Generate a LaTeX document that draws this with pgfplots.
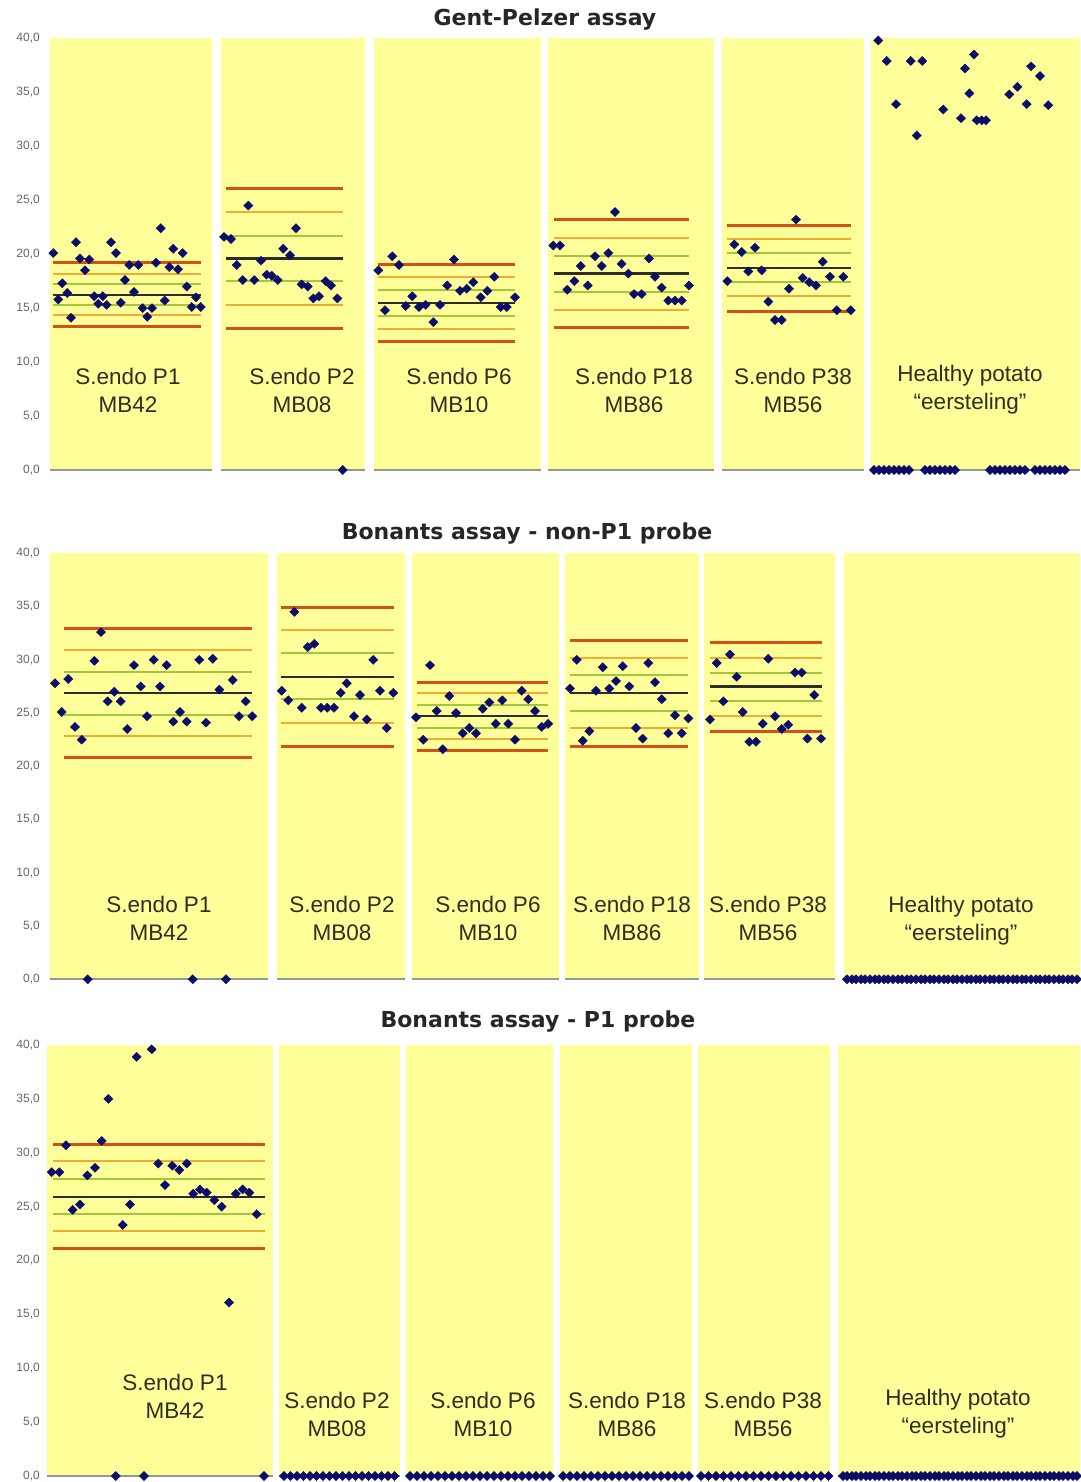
\documentclass[border=0pt]{standalone}
\usepackage{fontspec}
\setmainfont{Liberation Sans}
\newfontfamily\titlefont{DejaVu Sans}
\usepackage{pgfplots}
\usepackage{pgfplotstable}
\pgfplotsset{compat=1.18}

\definecolor{bgyellow}{RGB}{255,255,153}
\definecolor{navy}{RGB}{12,12,105}
\definecolor{lred}{RGB}{208,82,22}
\definecolor{lorange}{RGB}{242,172,52}
\definecolor{lgreen}{RGB}{160,200,60}
\definecolor{lblack}{RGB}{45,45,40}
\definecolor{basegrey}{RGB}{150,150,150}
\definecolor{labtext}{RGB}{45,45,35}

% ---------------- data: x = sample position, y = Ct value ----------------
\pgfplotstableread{
x y
53.3 20.1
58.3 15.8
62.3 17.3
67.3 16.4
71.0 14.1
76.0 21.1
80.0 19.6
85.0 18.5
89.3 19.5
94.3 16.1
98.3 15.4
102.7 16.1
106.7 15.3
111.0 21.1
116.0 20.1
120.7 15.5
125.0 17.6
129.3 19.0
134.0 16.5
138.3 19.0
142.7 15.0
147.3 14.2
152.0 15.0
156.0 19.2
160.7 22.4
164.7 15.7
169.3 18.8
173.3 20.5
178.0 18.6
182.7 20.1
186.7 17.0
191.7 15.1
196.0 16.0
200.7 15.1
224.0 21.6
231.0 21.4
236.7 19.0
242.7 17.6
248.3 24.5
254.3 17.6
261.0 19.4
266.7 18.1
271.7 18.0
277.7 17.6
283.3 20.5
290.0 19.9
296.0 22.4
301.7 17.2
307.7 17.0
313.3 15.9
319.0 16.1
325.7 17.5
331.0 17.1
337.3 15.9
342.7 0
378.3 18.5
385.0 14.8
392.3 19.8
399.0 19.0
405.7 15.2
412.3 16.1
419.0 15.1
425.7 15.3
433.3 13.7
440.0 15.3
447.3 17.1
454.0 19.5
460.0 16.6
466.7 16.8
473.3 17.4
480.7 16.0
487.3 16.6
494.3 17.9
500.7 15.1
506.7 15.1
515.0 16.0
553.3 20.8
560.0 20.8
567.3 16.7
574.3 17.5
580.7 18.9
587.7 17.1
595.0 19.8
601.7 18.9
608.3 20.1
615.0 23.9
621.7 19.1
628.3 18.2
634.0 16.3
641.7 16.3
649.0 19.6
655.0 17.9
661.7 16.9
668.3 15.7
675.0 15.7
681.7 15.7
689.0 17.1
727.3 17.5
734.3 20.9
741.7 20.2
748.3 18.4
755.0 20.6
761.7 18.5
768.3 15.6
775.0 13.9
781.7 13.9
789.0 16.8
796.0 23.2
802.7 17.8
809.3 17.4
816.0 17.1
822.7 19.3
830.0 17.9
836.7 14.8
843.3 17.9
850.7 14.8
878.3 39.8
886.7 37.9
896.0 33.9
910.7 37.9
916.7 31.0
922.3 37.9
943.3 33.4
961.0 32.6
965.0 37.2
969.3 34.9
974.0 38.5
976.7 32.4
981.7 32.4
986.0 32.4
1009.3 34.8
1017.3 35.5
1026.7 33.9
1031.0 37.4
1040.0 36.5
1048.3 33.8
874 0
879 0
884 0
889 0
894 0
899 0
904 0
909 0
925 0
930 0
935 0
940 0
945 0
950 0
955 0
990 0
995 0
1000 0
1005 0
1010 0
1015 0
1020 0
1025 0
1035 0
1040 0
1045 0
1050 0
1055 0
1060 0
1065 0
}\gpdata

\pgfplotstableread{
x y
55.0 27.8
61.7 25.1
68.3 28.2
75.0 23.7
81.7 22.5
87.7 0
94.3 29.9
101.0 32.6
107.7 26.1
114.3 27.0
120.7 26.1
127.3 23.5
134.0 29.5
140.7 27.5
147.0 24.7
153.7 30.0
160.0 27.5
166.7 29.5
173.3 24.2
180.0 25.1
186.7 24.2
192.7 0
199.3 30.0
206.0 24.1
212.7 30.1
219.3 27.2
226.0 0
232.7 28.1
239.0 24.7
245.7 26.1
252.3 24.7
281.7 27.1
288.3 26.2
294.3 34.5
301.7 25.5
307.7 31.2
314.3 31.5
321.0 25.5
327.3 25.5
334.0 25.5
340.7 26.9
346.7 27.8
354.0 24.7
360.0 26.7
366.7 24.4
373.3 30.0
380.0 27.1
386.7 23.6
393.3 26.9
416.0 24.6
423.3 22.5
430.0 29.5
436.7 25.2
442.7 21.6
449.3 26.6
456.0 25.0
462.7 23.1
469.3 23.6
476.0 23.1
482.7 25.4
489.3 26.0
495.7 24.0
502.3 26.2
508.3 24.0
515.0 22.5
521.7 27.1
528.3 26.3
535.0 25.2
541.7 23.7
548.3 24.0
570.0 27.3
576.7 30.0
582.7 22.4
589.3 23.3
596.0 27.1
602.7 29.3
609.3 27.3
616.0 28.0
622.7 29.4
629.3 27.5
636.0 23.6
642.7 22.6
648.3 29.7
655.0 27.9
661.7 26.3
668.3 23.1
675.0 24.8
681.7 23.1
688.3 24.5
710.0 24.4
716.7 29.7
723.3 26.1
730.0 30.5
736.7 28.4
742.7 25.1
749.3 22.3
756.0 22.3
762.7 24.0
768.3 30.1
775.0 24.7
781.7 23.5
788.3 23.9
795.0 28.8
801.7 28.8
807.3 22.6
814.3 26.7
821.0 22.6
847 0
852 0
856 0
861 0
865 0
870 0
875 0
879 0
884 0
888 0
893 0
898 0
902 0
907 0
911 0
916 0
921 0
925 0
930 0
934 0
939 0
944 0
948 0
953 0
957 0
962 0
967 0
971 0
976 0
980 0
985 0
990 0
994 0
999 0
1003 0
1008 0
1013 0
1017 0
1022 0
1026 0
1031 0
1036 0
1040 0
1045 0
1049 0
1054 0
1059 0
1063 0
1068 0
1072 0
1077 0
}\bndata

\pgfplotstableread{
x y
51.7 28.2
59.3 28.2
66.0 30.7
72.7 24.7
80.0 25.2
87.3 27.9
95.0 28.6
101.7 31.1
108.3 35.0
115.7 0
122.7 23.3
130.0 25.2
136.7 38.9
144.0 0
151.7 39.6
158.3 29.0
165.0 27.0
172.3 28.8
179.3 28.4
186.7 29.0
193.3 26.2
200.0 26.6
206.7 26.3
214.3 25.6
221.7 25.0
229.0 16.1
235.7 26.2
242.7 26.6
249.3 26.3
256.7 24.3
264.0 0
284 0
290.5 0
297 0
303.5 0
310 0
316.5 0
323 0
329.5 0
336 0
342.5 0
349 0
355.5 0
362 0
368.5 0
375 0
381.5 0
388 0
394.5 0
410 0
417 0
424 0
431 0
438 0
445 0
452 0
459 0
466 0
473 0
480 0
487 0
494 0
501 0
508 0
515 0
522 0
529 0
536 0
543 0
550 0
563 0
570 0
577 0
584 0
591 0
598 0
605 0
612 0
619 0
626 0
633 0
640 0
647 0
654 0
661 0
668 0
675 0
682 0
689 0
701 0
708.5 0
716 0
723.5 0
731 0
738.5 0
746 0
753.5 0
761 0
768.5 0
776 0
783.5 0
791 0
798.5 0
806 0
813.5 0
821 0
828.5 0
843 0
847 0
852 0
856 0
861 0
866 0
870 0
875 0
879 0
884 0
889 0
893 0
898 0
902 0
907 0
912 0
916 0
921 0
925 0
930 0
935 0
939 0
944 0
948 0
953 0
958 0
962 0
967 0
971 0
976 0
981 0
985 0
990 0
994 0
999 0
1004 0
1008 0
1013 0
1017 0
1022 0
1027 0
1031 0
1036 0
1040 0
1045 0
1050 0
1054 0
1059 0
1063 0
1068 0
1073 0
1077 0
}\pidata

% yellow column with grey baseline
\newcommand{\colbox}[2]{%
  \addplot[fill=bgyellow, draw=none] coordinates {(#1,0)(#2,0)(#2,40)(#1,40)} -- cycle;
  \addplot[basegrey, line width=2pt] coordinates {(#1,0)(#2,0)};
}
% mean and SD lines: x1 x2 +3 +2 +1 mean -1 -2 -3
\newcommand{\sdlines}[9]{%
  \addplot[lred, line width=3pt] coordinates {(#1,#3)(#2,#3)};
  \addplot[lorange, line width=2pt] coordinates {(#1,#4)(#2,#4)};
  \addplot[lgreen, line width=2pt] coordinates {(#1,#5)(#2,#5)};
  \addplot[lblack, line width=2.2pt] coordinates {(#1,#6)(#2,#6)};
  \addplot[lgreen, line width=2pt] coordinates {(#1,#7)(#2,#7)};
  \addplot[lorange, line width=2pt] coordinates {(#1,#8)(#2,#8)};
  \addplot[lred, line width=3pt] coordinates {(#1,#9)(#2,#9)};
}
\newcommand{\clab}[3]{\node[font=\fontsize{22.5}{28}\selectfont, align=center, text=labtext] at (axis cs:#1,#2) {#3};}

\pgfplotsset{panel/.style={
  scale only axis, width=1032pt, anchor=south west,
  xmin=48, xmax=1080, ymin=0, ymax=40,
  clip=false,
  axis line style={draw=none},
  xtick=\empty,
  ytick={0,5,...,40},
  major tick length=0pt,
  tick style={draw=none},
  yticklabel style={font=\fontsize{12}{12}\selectfont, text=black!60, inner sep=0pt, xshift=-8pt,
    /pgf/number format/.cd, fixed, fixed zerofill, precision=1, use comma, assume math mode=true},
}}
\newcommand{\plotpts}[1]{\addplot[only marks, mark=diamond*, mark size=4.6pt, mark options={draw=navy, fill=navy, line width=0.3pt, xscale=1.35}] table[x=x, y=y] {#1};}

\begin{document}
\begin{tikzpicture}
\useasboundingbox (0,0) rectangle (1080pt,-1482pt);

% ---------------- Panel 1 ----------------
\begin{axis}[panel, height=431.7pt, at={(48pt,-470pt)}]
\colbox{50}{212}\colbox{221}{365}\colbox{374}{541}\colbox{548}{714}\colbox{722}{864}\colbox{871}{1080}
\sdlines{53}{201}{19.2}{18.2}{17.2}{16.2}{15.3}{14.4}{13.3}
\sdlines{226}{343}{26.1}{23.9}{21.7}{19.6}{17.5}{15.3}{13.1}
\sdlines{378}{515}{19.0}{17.85}{16.7}{15.5}{14.3}{13.1}{11.9}
\sdlines{554}{689}{23.2}{21.5}{19.8}{18.2}{16.5}{14.8}{13.2}
\sdlines{727}{851}{22.7}{21.4}{20.1}{18.7}{17.4}{16.1}{14.7}
\plotpts{\gpdata}
\clab{128}{7.41}{S.endo P1\\MB42}
\clab{302}{7.41}{S.endo P2\\MB08}
\clab{459}{7.41}{S.endo P6\\MB10}
\clab{634}{7.41}{S.endo P18\\MB86}
\clab{793}{7.41}{S.endo P38\\MB56}
\clab{970}{7.41}{Healthy potato\\“eersteling”}
\node[font=\titlefont\bfseries\fontsize{22}{24}\selectfont, text=black!85] at (axis cs:545,41.7) {Gent-Pelzer assay};
\end{axis}

% ---------------- Panel 2 ----------------
\begin{axis}[panel, height=426pt, at={(48pt,-979.3pt)}]
\colbox{50}{268}\colbox{277}{405}\colbox{412}{559}\colbox{565}{699}\colbox{704}{835}\colbox{844}{1080}
\sdlines{64}{252}{32.9}{30.9}{28.9}{26.85}{24.8}{22.8}{20.8}
\sdlines{281}{394}{34.9}{32.8}{30.6}{28.4}{26.3}{24.1}{21.9}
\sdlines{417}{548}{27.9}{26.9}{25.8}{24.7}{23.6}{22.6}{21.5}
\sdlines{570}{688}{31.8}{30.2}{28.6}{26.9}{25.2}{23.6}{21.9}
\sdlines{710}{822}{31.6}{30.2}{28.8}{27.5}{26.1}{24.7}{23.3}
\plotpts{\bndata}
\clab{159}{5.71}{S.endo P1\\MB42}
\clab{342}{5.71}{S.endo P2\\MB08}
\clab{488}{5.71}{S.endo P6\\MB10}
\clab{632}{5.71}{S.endo P18\\MB86}
\clab{768}{5.71}{S.endo P38\\MB56}
\clab{961}{5.52}{Healthy potato\\“eersteling”}
\node[font=\titlefont\bfseries\fontsize{22}{24}\selectfont, text=black!85] at (axis cs:527,41.9) {Bonants assay - non-P1 probe};
\end{axis}

% ---------------- Panel 3 ----------------
\begin{axis}[panel, height=431pt, at={(48pt,-1476pt)}]
\colbox{47}{273}\colbox{279}{400}\colbox{406}{553}\colbox{560}{692}\colbox{698}{830}\colbox{838}{1080}
\sdlines{53}{265}{30.8}{29.2}{27.6}{25.9}{24.3}{22.7}{21.1}
\plotpts{\pidata}
\clab{175}{7.38}{S.endo P1\\MB42}
\clab{337}{5.75}{S.endo P2\\MB08}
\clab{483}{5.75}{S.endo P6\\MB10}
\clab{627}{5.75}{S.endo P18\\MB86}
\clab{763}{5.75}{S.endo P38\\MB56}
\clab{958}{5.75}{Healthy potato\\“eersteling”}
\node[font=\titlefont\bfseries\fontsize{22}{24}\selectfont, text=black!85] at (axis cs:538,42.2) {Bonants assay - P1 probe};
\end{axis}
\end{tikzpicture}
\end{document}
